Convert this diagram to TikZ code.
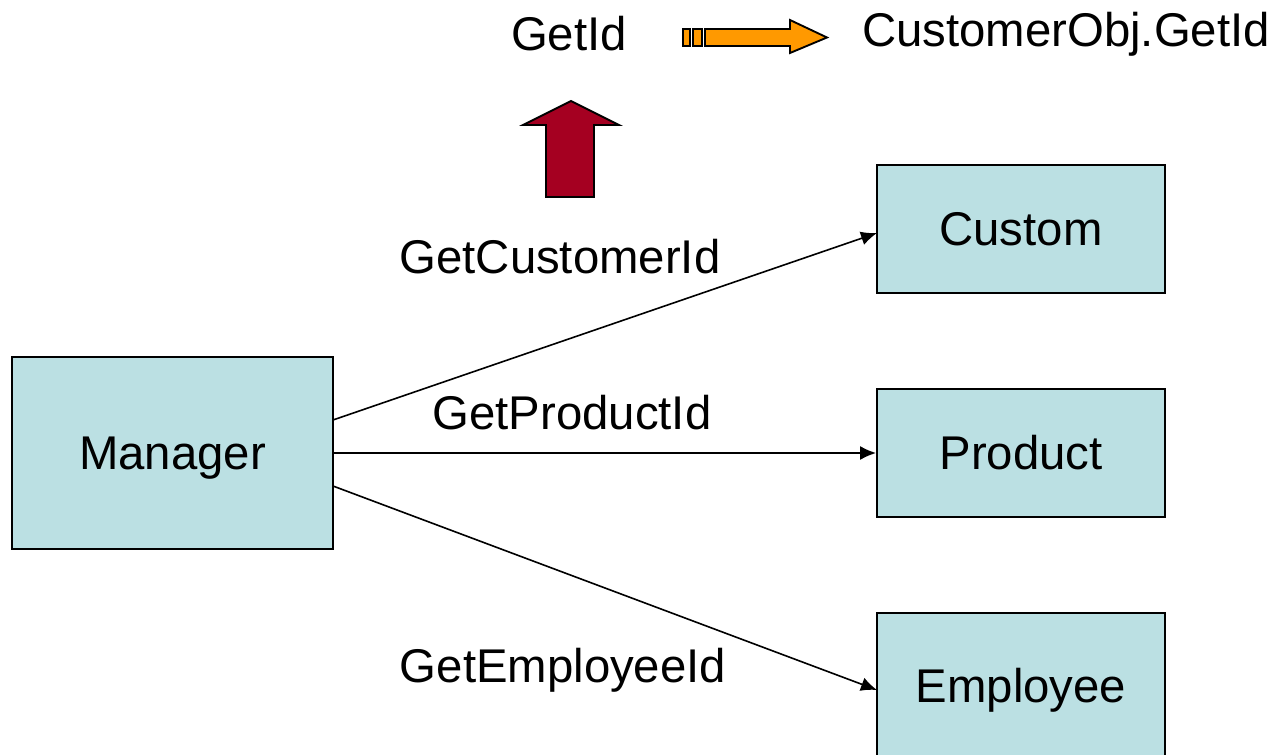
\documentclass[tikz,border=0pt]{standalone}
\usepackage{fontspec}
\setmainfont{Liberation Sans}
\usetikzlibrary{arrows.meta}
\definecolor{boxfill}{HTML}{BBE0E3}
\definecolor{darkred}{HTML}{A50021}
\definecolor{orangey}{HTML}{FF9900}
\begin{document}
\begin{tikzpicture}[x=0.75pt,y=-0.75pt,
  box/.style={draw=black,line width=1.4pt,fill=boxfill,minimum width=321*0.75pt,minimum height=192*0.75pt,inner sep=0pt,text height=25.4pt,text depth=0pt,font=\fontsize{35.5}{40}\selectfont},
  sbox/.style={box,minimum width=288*0.75pt,minimum height=128*0.75pt},
  lbl/.style={font=\fontsize{35.5}{40}\selectfont,inner sep=0pt},
  conn/.style={line width=1.2pt,-{Latex[length=12pt,width=10.5pt]}}]
\useasboundingbox (0,0) rectangle (1278,755);
\node[box] (mgr) at (172.5,453) {Manager};
\node[sbox] (cus) at (1021,229) {Custom};
\node[sbox] (prod) at (1021,453) {Product};
\node[box,minimum width=288*0.75pt,minimum height=146*0.75pt] (emp) at (1021,686) {Employee};
\coordinate (m1) at (333,420);
\coordinate (m2) at (333,453);
\coordinate (m3) at (333,486);
\coordinate (c1) at (877,233);
\coordinate (e1) at (877,690);
\draw[conn] (m1) -- (c1);
\draw[conn] (m2) -- (prod.west);
\draw[conn] (m3) -- (e1);
\node[lbl] (l1) at (560,257) {GetCustomerId};
\node[lbl] (l2) at (572,413) {GetProductId};
\node[lbl] (l3) at (563,670) {GetEmployeeId};
\node[lbl] (gid) at (569,34) {GetId};
\node[lbl] (cog) at (1066,34) {CustomerObj.GetId};
% orange arrow
\draw[fill=orangey,line width=1.4pt] (683,29) rectangle (690,46);
\draw[fill=orangey,line width=1.4pt] (693,29) rectangle (702,46);
\draw[fill=orangey,line width=1.4pt,line join=miter] (705,29) -- (790,29) -- (790,20) -- (827,37.5) -- (790,53) -- (790,46) -- (705,46) -- cycle;
% red arrow
\draw[fill=darkred,line width=1.4pt,line join=miter] (546,197) -- (546,125) -- (523,125) -- (571,101) -- (619,125) -- (594,125) -- (594,197) -- cycle;
\end{tikzpicture}
\end{document}
